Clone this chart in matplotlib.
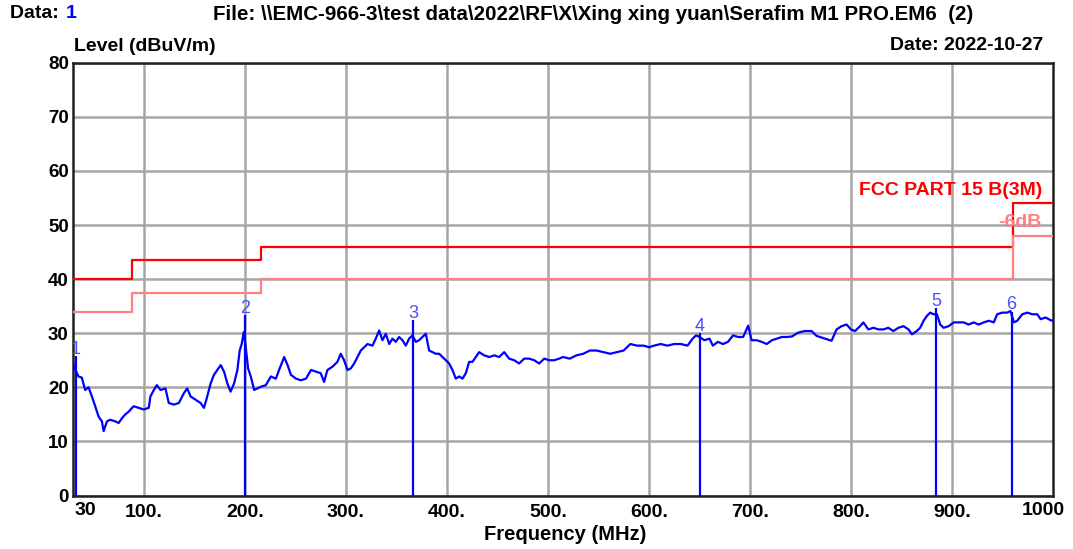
import matplotlib
matplotlib.use("Agg")
import matplotlib.pyplot as plt
import matplotlib.transforms as mtransforms

# ---------------- data ----------------
freq = [30, 32.5, 35.4, 38.7, 42, 45.4, 48.7, 52, 55.3, 58.6, 60.3, 63.6, 66.9, 71.9, 75.2, 78.5,
        81.8, 85.1, 90, 95, 100, 105, 106.6, 110, 113, 116.6, 121.5, 124.8, 129.8, 134.8, 139.7,
        143, 146.4, 151.3, 156.3, 159.6, 162, 166.2, 169.5, 172.8, 176.2, 179.5, 182.8, 186,
        189.4, 192.7, 195, 197, 199, 201, 203.3, 206, 209.3, 212.6, 215.9, 220.9, 225.8, 230.8,
        234, 239, 242.4, 245.7, 250.7, 255.6, 260.6, 265.6, 270.5, 275.2, 278.5, 281.8, 286.8,
        291.7, 295, 298.3, 301.7, 305, 308.3, 311.6, 314.9, 318.2, 321.5, 326.4, 329.7, 333,
        336.3, 339.6, 343, 346.2, 349.5, 352.8, 356.1, 359.4, 362.7, 366, 369.3, 372.6, 375.9,
        379.2, 382.5, 385.8, 389.1, 392.4, 395.7, 399, 402.3, 405.6, 408.9, 412.2, 415.5, 418.8,
        422.1, 425.4, 428.7, 432, 437, 442, 446.9, 451.8, 456.8, 461.7, 466.7, 471.6, 476.6,
        481.5, 486.5, 491.4, 496.4, 501.3, 506.3, 511.2, 515, 521.7, 528.3, 535, 541.7, 548.3,
        555, 561.7, 568.3, 575, 581.7, 588.3, 595, 600, 605, 611.7, 618.3, 625, 631.7, 638.3,
        643.3, 646.7, 650, 655, 660, 663.3, 668.3, 673.3, 678.3, 683.3, 688.3, 693.3, 698.3,
        701.7, 706.7, 711.7, 716.7, 721.7, 726.7, 731.7, 736.7, 741.7, 747.7, 754.3, 761, 766,
        771, 775.8, 780.8, 785.8, 790.7, 795.7, 800, 804, 809, 812.3, 817.2, 822.2, 827.2, 832.1,
        837, 842, 847, 852, 857, 860.3, 865.2, 868.5, 871.9, 875.2, 878.5, 881.8, 885.1, 888.4,
        891.7, 896.7, 901.7, 906.6, 911.6, 916.6, 921.5, 926.5, 931.5, 936.4, 941.4, 944.7,
        949.7, 954.6, 957.9, 961.3, 964.6, 969.5, 974.5, 979.5, 984.4, 987.7, 992.7, 997.7, 1000]
level = [24.5, 23.2, 22.0, 21.8, 19.5, 20.0, 18.3, 16.5, 14.6, 13.7, 11.9, 13.7, 14.0, 13.7, 13.4, 14.3,
         15.0, 15.5, 16.5, 16.2, 15.9, 16.2, 18.3, 19.5, 20.4, 19.5, 19.8, 17.1, 16.8, 17.1, 18.9,
         19.8, 18.3, 17.7, 17.1, 16.2, 17.7, 20.7, 22.3, 23.2, 24.1, 22.9, 20.7, 19.2,
         20.7, 23.2, 26.8, 28.0, 30.2, 27.4, 23.5, 22.0, 19.5, 19.8, 20.1, 20.4, 22.0, 21.6,
         23.2, 25.6, 24.1, 22.3, 21.6, 21.3, 21.6, 23.2, 22.9, 22.6, 21.0, 23.2, 23.8,
         24.7, 26.2, 25.0, 23.2, 23.5, 24.4, 25.6, 26.8, 27.4, 28.0, 27.7, 29.0, 30.5,
         28.7, 29.9, 28.0, 29.0, 28.4, 29.3, 28.7, 27.7, 29.0, 29.6, 28.4, 28.7, 29.3,
         29.9, 26.8, 26.5, 26.2, 26.2, 25.6, 25.0, 24.4, 23.2, 21.6, 22.0, 21.6, 22.6,
         24.7, 24.7, 25.6, 26.5, 25.9, 25.6, 25.9, 25.6, 26.5, 25.3, 25.0, 24.4, 25.3,
         25.3, 25.0, 24.4, 25.3, 25.0, 25.0, 25.3, 25.6, 25.3, 25.9, 26.2, 26.8, 26.8,
         26.5, 26.2, 26.5, 26.8, 28.0, 27.7, 27.7, 27.4, 27.7, 28.0, 27.7, 28.0, 28.0, 27.7,
         29.0, 29.6, 29.3, 28.7, 29.0, 27.7, 28.4, 28.0, 28.4, 29.6, 29.3, 29.3, 31.4,
         28.7, 28.7, 28.4, 28.0, 28.7, 29.0, 29.3, 29.3, 29.4, 30.1, 30.4, 30.4, 29.5,
         29.2, 28.9, 28.6, 30.7, 31.3, 31.6, 30.7, 30.4, 31.3, 32.0, 30.7, 31.0, 30.7, 30.7,
         31.0, 30.4, 31.0, 31.3, 30.7, 29.8, 30.4, 31.0, 32.3, 33.2, 33.8, 33.5, 33.5, 31.6,
         31.0, 31.3, 32.0, 32.0, 32.0, 31.6, 32.0, 31.6, 32.0, 32.3, 32.0, 33.5,
         33.8, 33.8, 34.1, 32.0, 32.3, 33.5, 33.8, 33.5, 33.5, 32.6, 32.9, 32.4, 32.3]

limit_freq = [30, 88, 88, 216, 216, 960, 960, 1000]
limit_level = [40, 40, 43.5, 43.5, 46, 46, 54, 54]
margin_level = [34, 34, 37.5, 37.5, 40, 40, 48, 48]

marker_ids = ["1", "2", "3", "4", "5", "6"]
marker_freq = [32.5, 200, 367, 650.7, 884.4, 959]
marker_level = [25.7, 33.3, 32.4, 30.0, 34.6, 34.0]

xtick_vals = [100, 200, 300, 400, 500, 600, 700, 800, 900]
xtick_labels = ["100.", "200.", "300.", "400.", "500.", "600.", "700.", "800.", "900."]
ytick_vals = [0, 10, 20, 30, 40, 50, 60, 70, 80]

# ---------------- style ----------------
BOLD = ["Liberation Sans", "DejaVu Sans"]
BLUE = "#0000ff"
RED = "#ff0000"
PINK = "#ff8080"
GRID = "#a6a6a6"
FS = 14

fig = plt.figure(figsize=(10.73, 5.49), dpi=100)
ax = fig.add_axes([73 / 1073, 1 - 495.5 / 549, (1053 - 73) / 1073, (495.5 - 62.7) / 549])
ax.set_xlim(30, 1000)
ax.set_ylim(0, 80)

ax.set_xticks(xtick_vals)
ax.set_xticklabels(xtick_labels, family=BOLD, fontweight="bold", fontsize=14)
ax.set_yticks(ytick_vals)
ax.set_yticklabels([str(v) for v in ytick_vals], family=BOLD, fontweight="bold", fontsize=13.5)
ax.tick_params(axis="x", length=0, pad=6)
ax.tick_params(axis="y", length=0, pad=3)
ax.grid(True, color=GRID, linewidth=1.8)
ax.set_axisbelow(True)
for s in ax.spines.values():
    s.set_linewidth(1.8)
    s.set_color("#202020")

# end labels on x axis
trans = mtransforms.blended_transform_factory(ax.transData, ax.transAxes)
ax.text(42, -0.014, "30", transform=trans, ha="center", va="top",
        family=BOLD, fontweight="bold", fontsize=14)
ax.text(990, -0.014, "1000", transform=trans, ha="center", va="top",
        family=BOLD, fontweight="bold", fontsize=14)

# limit lines
ax.plot(limit_freq, limit_level, color=RED, linewidth=1.6, zorder=3)
ax.plot(limit_freq, margin_level, color=PINK, linewidth=1.6, zorder=3)

# trace
ax.plot(freq, level, color=BLUE, linewidth=1.6, zorder=4)

# markers
for mid, mf, ml in zip(marker_ids, marker_freq, marker_level):
    ax.vlines(mf, 0, ml, color=BLUE, linewidth=1.6, zorder=5)
    ax.text(mf, ml - 0.3, mid, color="#4d4dff", ha="center", va="bottom",
            family=["Liberation Sans", "DejaVu Sans"], fontsize=13, zorder=6)

# limit labels
ax.text(989, 56.3, "FCC PART 15 B(3M)", color=RED, ha="right", va="center",
        family=BOLD, fontweight="bold", fontsize=FS)
ax.text(989, 50.4, "-6dB", color=PINK, ha="right", va="center",
        family=BOLD, fontweight="bold", fontsize=FS)

# header texts
fig.text(10 / 1073, 1 - 14 / 549, "Data: ", ha="left", va="center",
         family=BOLD, fontweight="bold", fontsize=FS)
fig.text(66 / 1073, 1 - 14 / 549, "1", ha="left", va="center", color=BLUE,
         family=BOLD, fontweight="bold", fontsize=FS)
fig.text(213 / 1073, 1 - 14 / 549,
         "File: \\\\EMC-966-3\\test data\\2022\\RF\\X\\Xing xing yuan\\Serafim M1 PRO.EM6  (2)",
         ha="left", va="center", family=BOLD, fontweight="bold", fontsize=14.8)
fig.text(74 / 1073, 1 - 47 / 549, "Level (dBuV/m)", ha="left", va="center",
         family=BOLD, fontweight="bold", fontsize=FS)
fig.text(1043 / 1073, 1 - 45 / 549, "Date: 2022-10-27", ha="right", va="center",
         family=BOLD, fontweight="bold", fontsize=FS)
fig.text(565 / 1073, 1 - 535 / 549, "Frequency (MHz)", ha="center", va="center",
         family=BOLD, fontweight="bold", fontsize=14.5)

fig.savefig("out.png", dpi=100)
